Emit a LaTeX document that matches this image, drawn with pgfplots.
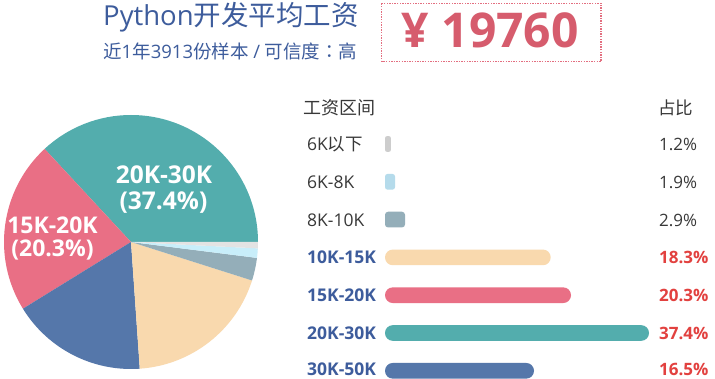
\documentclass[border=0pt]{standalone}
\usepackage{pgfplots}
\pgfplotsset{compat=1.18}
\usepackage{fontspec}
\setmainfont{Open Sans}
\newfontfamily\cjk{Noto Sans CJK SC}
\newfontfamily\cjktc{Noto Sans CJK TC}
\definecolor{cTeal}{HTML}{53ADAD}
\definecolor{cPink}{HTML}{E96F85}
\definecolor{cBlue}{HTML}{5577AA}
\definecolor{cPeach}{HTML}{F9D9AE}
\definecolor{cGrayBlue}{HTML}{94AEB9}
\definecolor{cLBbar}{HTML}{B5DBEB}
\definecolor{cGbar}{HTML}{CDCDCD}
\definecolor{cLBpie}{HTML}{C8EEFA}
\definecolor{cGpie}{HTML}{E3E3E3}
\definecolor{cTitle}{HTML}{3D5C9C}
\definecolor{cYen}{HTML}{D65C6D}
\definecolor{cBox}{HTML}{E36F80}
\definecolor{cRed}{HTML}{E2413F}
\definecolor{cDark}{HTML}{383838}
\tikzset{
  lab/.style={anchor=base west, inner sep=0pt, text=cDark, font=\fontsize{17.5}{17.5}\selectfont},
  blab/.style={anchor=base west, inner sep=0pt, text depth=0pt, text=cTitle, font=\bfseries\fontsize{17.5}{17.5}\selectfont},
  pct/.style={anchor=base west, inner sep=0pt, text=cDark, font=\fontsize{17}{17}\selectfont},
  bpct/.style={anchor=base west, inner sep=0pt, text depth=0pt, text=cRed, font=\bfseries\fontsize{17}{17}\selectfont},
}
\begin{document}
\begin{tikzpicture}[x=1pt,y=1pt]
\fill[white] (0,0) rectangle (715,379);
% ---------- main axis: pie and texts (1 unit = 1pt, y downward)
\begin{axis}[at={(0pt,0pt)}, anchor=south west, scale only axis,
  width=715pt, height=379pt, xmin=0, xmax=715, ymin=0, ymax=379,
  y dir=reverse, hide axis, clip=false]
\pgfplotsextra{%
  \foreach \v/\c [remember=\e as \s (initially 0)] in
     {36.9/cTeal, 21.9/cPink, 17.3/cBlue, 19.0/cPeach, 2.9/cGrayBlue, 1.2/cLBpie, 0.8/cGpie}{%
    \pgfmathsetmacro\e{\s+3.6*\v}%
    \fill[\c] (axis cs:131,242) -- ++(\s:127pt) arc[start angle=\s, end angle=\e, radius=127pt] -- cycle;
  }%
}
% pie labels
\node[anchor=base, text=white, font=\bfseries\fontsize{24.5}{24.5}\selectfont] at (axis cs:164,183.3) {20K-30K};
\node[anchor=base, text=white, font=\bfseries\fontsize{24.5}{24.5}\selectfont] at (axis cs:163.5,210) {(37.4\%)};
\node[anchor=base, text=white, font=\bfseries\fontsize{23}{23}\selectfont] at (axis cs:52.5,233.3) {15K-20K};
\node[anchor=base, text=white, font=\bfseries\fontsize{23}{23}\selectfont] at (axis cs:52.5,256.7) {(20.3\%)};
% titles
\node[anchor=base west, inner sep=0pt, text=cTitle, font=\fontsize{27.5}{27.5}\selectfont] at (axis cs:103,26) {Python{\cjk 开发平均工资}};
\node[anchor=base west, inner sep=0pt, text=cTitle, font=\fontsize{18.5}{18.5}\selectfont] at (axis cs:103,58.3) {{\cjk 近}1{\cjk 年}3913{\cjk 份样本} / {\cjk 可信度}{\cjktc ：}{\cjk 高}};
\draw[cBox, line width=1.5pt, dash pattern=on 1.4pt off 1.2pt] (axis cs:381.5,3.5) rectangle (axis cs:601,61.5);
\node[anchor=base west, inner sep=0pt, text=cYen, font=\bfseries\fontsize{48}{48}\selectfont] at (axis cs:401.7,48) {¥ 19760};
% table header
\node[anchor=base west, inner sep=0pt, text=cDark, font=\cjk\fontsize{18}{18}\selectfont] at (axis cs:303,114.5) {工资区间};
\node[anchor=base west, inner sep=0pt, text=cDark, font=\cjk\fontsize{17.5}{17.5}\selectfont] at (axis cs:658,114.5) {占比};
% row labels
\node[lab] at (axis cs:307,150.5) {6K{\cjk 以下}};
\node[lab] at (axis cs:307,188.3) {6K-8K};
\node[lab] at (axis cs:307,226.1) {8K-10K};
\node[blab] at (axis cs:307,263.9) {10K-15K};
\node[blab] at (axis cs:307,301.7) {15K-20K};
\node[blab] at (axis cs:307,339.5) {20K-30K};
\node[blab] at (axis cs:307,375.6) {30K-50K};
\node[pct] at (axis cs:659,150.5) {1.2\%};
\node[pct] at (axis cs:659,188.3) {1.9\%};
\node[pct] at (axis cs:659,226.1) {2.9\%};
\node[bpct] at (axis cs:659,263.9) {18.3\%};
\node[bpct] at (axis cs:659,301.7) {20.3\%};
\node[bpct] at (axis cs:659,339.5) {37.4\%};
\node[bpct] at (axis cs:659,375.6) {16.5\%};
\end{axis}
% ---------- bar axis (bar length in pt as drawn)
\begin{axis}[at={(385pt,0pt)}, anchor=south west, scale only axis,
  width=300pt, height=379pt, xmin=0, xmax=300, ymin=0, ymax=379,
  y dir=reverse, hide axis, clip=false]
\addplot[xbar, bar width=15.7, bar shift=0pt, fill=cGbar, draw=none, rounded corners=2pt] coordinates {(5.9,144)};
\addplot[xbar, bar width=15.7, bar shift=0pt, fill=cLBbar, draw=none, rounded corners=2.5pt] coordinates {(10,181.8)};
\addplot[xbar, bar width=15.7, bar shift=0pt, fill=cGrayBlue, draw=none, rounded corners=3pt] coordinates {(20,219.6)};
\addplot[xbar, bar width=15.7, bar shift=0pt, fill=cPeach, draw=none, rounded corners=7.8pt] coordinates {(165.7,257.4)};
\addplot[xbar, bar width=15.7, bar shift=0pt, fill=cPink, draw=none, rounded corners=7.8pt] coordinates {(186,295.2)};
\addplot[xbar, bar width=15.7, bar shift=0pt, fill=cTeal, draw=none, rounded corners=7.8pt] coordinates {(264,333)};
\addplot[xbar, bar width=15.7, bar shift=0pt, fill=cBlue, draw=none, rounded corners=7.8pt] coordinates {(149,370.8)};
\end{axis}
\pgfresetboundingbox
\path[use as bounding box] (0,0) rectangle (715,379);
\end{tikzpicture}
\end{document}
